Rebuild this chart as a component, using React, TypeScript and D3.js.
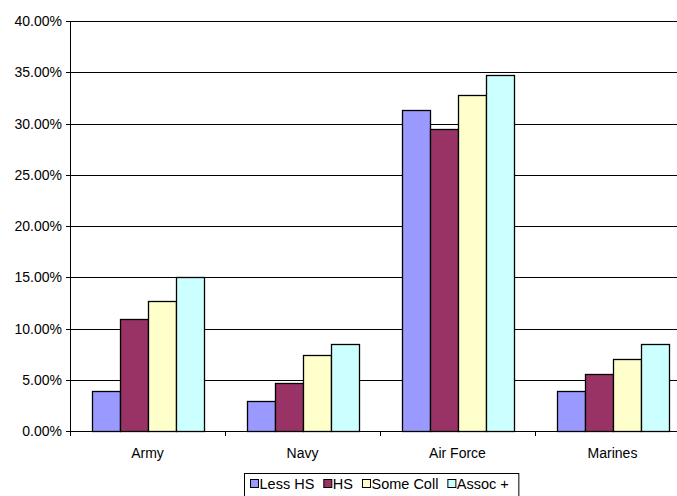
import React, { useEffect, useRef } from "react";
import * as d3 from "d3";

const categories = ["Army", "Navy", "Air Force", "Marines"];
const seriesNames = ["Less HS", "HS", "Some Coll", "Assoc +"];
const lessHS = [0.039, 0.029, 0.313, 0.039];
const hs = [0.109, 0.0465, 0.295, 0.0556];
const someColl = [0.127, 0.074, 0.328, 0.07];
const assoc = [0.1505, 0.0845, 0.347, 0.0845];
const seriesValues = [lessHS, hs, someColl, assoc];
const colors = ["#9999FF", "#993366", "#FFFFCC", "#CCFFFF"];
const yTicks = [0, 0.05, 0.1, 0.15, 0.2, 0.25, 0.3, 0.35, 0.4];

export default function App() {
  const ref = useRef<SVGSVGElement>(null);
  useEffect(() => {
    const svg = d3.select(ref.current);
    svg.selectAll("*").remove();
    const font = "'Liberation Sans', Arial, sans-serif";
    const left = 70, right = 690, top = 21, bottom = 431;
    const y = d3.scaleLinear().domain([0, 0.4]).range([bottom, top]);
    const x = d3.scaleBand().domain(categories).range([left, right]).padding(0);
    const groupW = 112;
    const xs = d3.scaleBand().domain(seriesNames)
      .range([(x.bandwidth() - groupW) / 2, (x.bandwidth() + groupW) / 2]).padding(0);

    const g = svg.append("g");
    // gridlines
    g.selectAll("line.grid").data(yTicks.filter(t => t > 0)).enter().append("line")
      .attr("x1", left).attr("x2", right)
      .attr("y1", d => Math.round(y(d)) + 0.5).attr("y2", d => Math.round(y(d)) + 0.5)
      .attr("stroke", "#000").attr("stroke-width", 1);
    // y ticks & labels
    yTicks.forEach(t => {
      const yy = Math.round(y(t)) + 0.5;
      g.append("line").attr("x1", left - 4).attr("x2", left).attr("y1", yy).attr("y2", yy)
        .attr("stroke", "#000");
      g.append("text").attr("x", 62).attr("y", yy).attr("dy", "0.35em")
        .attr("text-anchor", "end").attr("font-family", font).attr("font-size", 14)
        .attr("fill", "#000").text(d3.format(".2%")(t));
    });
    // bars
    categories.forEach((c, ci) => {
      seriesNames.forEach((s, si) => {
        const v = seriesValues[si][ci];
        const x0 = (x(c) as number) + (xs(s) as number);
        g.append("rect")
          .attr("x", Math.round(x0) + 0.5)
          .attr("y", Math.round(y(v)) + 0.5)
          .attr("width", Math.round(xs.bandwidth()))
          .attr("height", Math.round(y(0)) - Math.round(y(v)))
          .attr("fill", colors[si]).attr("stroke", "#000").attr("stroke-width", 1.3);
      });
      g.append("text").attr("x", (x(c) as number) + x.bandwidth() / 2).attr("y", 458)
        .attr("text-anchor", "middle").attr("font-family", font).attr("font-size", 14)
        .attr("fill", "#000").text(c);
    });
    // axes
    g.append("line").attr("x1", left + 0.5).attr("x2", left + 0.5).attr("y1", top).attr("y2", bottom + 0.5)
      .attr("stroke", "#000");
    g.append("line").attr("x1", left - 4).attr("x2", right).attr("y1", bottom + 0.5).attr("y2", bottom + 0.5)
      .attr("stroke", "#000");
    categories.forEach(c => {
      const xx = Math.round(x(c) as number) + 0.5;
      g.append("line").attr("x1", xx).attr("x2", xx).attr("y1", bottom).attr("y2", bottom + 5)
        .attr("stroke", "#000");
    });
    // legend
    const lg = svg.append("g");
    const box = lg.append("rect").attr("x", 244.5).attr("y", 473.5).attr("width", 274).attr("height", 30)
      .attr("fill", "#fff").attr("stroke", "#000");
    let cx = 250;
    let end = cx;
    seriesNames.forEach((s, i) => {
      lg.append("rect").attr("x", cx + 0.5).attr("y", 479.5).attr("width", 8).attr("height", 8)
        .attr("fill", colors[i]).attr("stroke", "#000");
      const t = lg.append("text").attr("x", cx + 9.5).attr("y", 489)
        .attr("font-family", font).attr("font-size", 14.5).attr("fill", "#000").text(s);
      const w = (t.node() as SVGTextElement).getComputedTextLength();
      end = cx + 9.5 + w;
      cx = end + 9;
    });
    box.attr("width", end + 10 - 244.5);
  }, []);
  return (
    <svg ref={ref} width={677} height={496} style={{ position: "absolute", left: 0, top: 0, background: "#fff" }} />
  );
}
